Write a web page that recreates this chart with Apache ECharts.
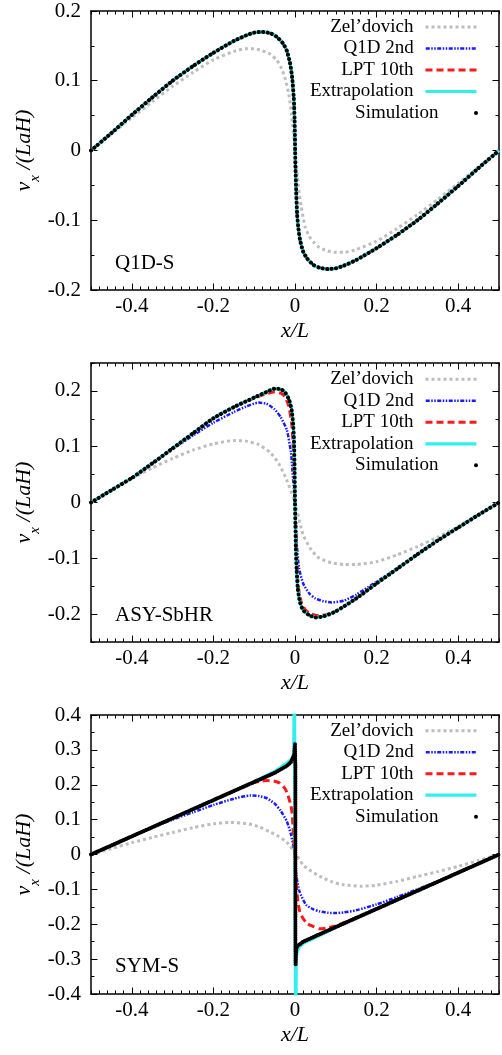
<!DOCTYPE html>
<html>
<head>
<meta charset="utf-8">
<script src="https://cdn.jsdelivr.net/npm/echarts@6/dist/echarts.min.js"></script>
<style>
  html, body { margin: 0; padding: 0; background: #fff; }
  #main { width: 502px; height: 1055px; }
</style>
</head>
<body>
<div id="main"></div>
<script>
// ---- data ----
var names = ['Zel\u2019dovich', 'Q1D 2nd', 'LPT 10th', 'Extrapolation', 'Simulation'];
var panelLabels = ['Q1D-S', 'ASY-SbHR', 'SYM-S'];
var xTickLabels = [-0.4, -0.2, 0, 0.2, 0.4];

// panel 1: Q1D-S
var q1dZelX = [-0.5,-0.45,-0.4,-0.35,-0.3,-0.25,-0.2,-0.15,-0.12,-0.1,-0.08,-0.06,-0.045,-0.035,-0.025,-0.015,-0.008,0,0.008,0.015,0.025,0.035,0.045,0.06,0.08,0.1,0.12,0.15,0.2,0.25,0.3,0.35,0.4,0.45,0.5];
var q1dZelY = [0,0.024,0.047,0.07,0.092,0.112,0.13,0.142,0.146,0.146,0.143,0.138,0.13,0.12,0.105,0.08,0.05,0,-0.05,-0.08,-0.11,-0.123,-0.131,-0.139,-0.144,-0.146,-0.146,-0.142,-0.13,-0.112,-0.092,-0.07,-0.047,-0.024,0];
var q1dExtX = [-0.5,-0.45,-0.4,-0.35,-0.3,-0.25,-0.2,-0.15,-0.12,-0.1,-0.08,-0.06,-0.045,-0.03,-0.02,-0.012,-0.007,-0.003,-0.001,0.001,0.003,0.005,0.008,0.012,0.02,0.03,0.045,0.06,0.08,0.1,0.12,0.15,0.2,0.25,0.3,0.35,0.4,0.45,0.5];
var q1dExtY = [0,0.025,0.051,0.076,0.1,0.121,0.14,0.157,0.165,0.169,0.17,0.168,0.163,0.154,0.143,0.125,0.105,0.075,0.045,-0.02,-0.06,-0.09,-0.11,-0.127,-0.145,-0.155,-0.164,-0.168,-0.17,-0.169,-0.165,-0.157,-0.14,-0.121,-0.1,-0.076,-0.051,-0.025,0];
var q1dQ1dX = q1dExtX, q1dQ1dY = q1dExtY;
var q1dLptX = q1dExtX, q1dLptY = q1dExtY;
var q1dSimX = q1dExtX, q1dSimY = q1dExtY;

// panel 2: ASY-SbHR
var asyZelX = [-0.5,-0.45,-0.4,-0.35,-0.3,-0.25,-0.2,-0.15,-0.12,-0.09,-0.06,-0.04,-0.02,0,0.02,0.04,0.06,0.09,0.12,0.15,0.2,0.25,0.3,0.35,0.4,0.45,0.5];
var asyZelY = [0,0.022,0.043,0.062,0.079,0.094,0.105,0.111,0.11,0.104,0.089,0.07,0.04,0,-0.058,-0.085,-0.1,-0.108,-0.111,-0.111,-0.106,-0.094,-0.079,-0.062,-0.043,-0.022,0];
var asyQ1dX = [-0.5,-0.45,-0.4,-0.35,-0.3,-0.25,-0.2,-0.15,-0.12,-0.09,-0.07,-0.05,-0.035,-0.02,-0.01,-0.005,0,0.005,0.01,0.02,0.035,0.05,0.07,0.09,0.12,0.15,0.2,0.25,0.3,0.35,0.4,0.45,0.5];
var asyQ1dY = [0,0.022,0.044,0.07,0.096,0.12,0.143,0.162,0.172,0.179,0.177,0.167,0.153,0.13,0.09,0.045,0,-0.08,-0.118,-0.145,-0.163,-0.172,-0.177,-0.179,-0.176,-0.165,-0.142,-0.118,-0.093,-0.068,-0.045,-0.022,0];
var asyLptX = [-0.5,-0.45,-0.4,-0.35,-0.3,-0.25,-0.2,-0.15,-0.1,-0.07,-0.05,-0.035,-0.025,-0.015,-0.008,-0.004,-0.002,0,0.002,0.004,0.008,0.015,0.025,0.04,0.06,0.08,0.1,0.15,0.2,0.25,0.3,0.35,0.4,0.45,0.5];
var asyLptY = [0,0.022,0.044,0.07,0.097,0.124,0.151,0.171,0.187,0.195,0.198,0.196,0.19,0.172,0.14,0.095,0.05,0,-0.05,-0.1,-0.15,-0.178,-0.192,-0.2,-0.203,-0.2,-0.195,-0.172,-0.145,-0.119,-0.093,-0.068,-0.045,-0.022,0];
var asyExtX = [-0.5,-0.45,-0.4,-0.35,-0.3,-0.25,-0.2,-0.15,-0.1,-0.07,-0.05,-0.035,-0.025,-0.015,-0.008,-0.004,-0.002,-0.001,0,0.001,0.002,0.004,0.007,0.012,0.02,0.035,0.05,0.07,0.1,0.15,0.2,0.25,0.3,0.35,0.4,0.45,0.5];
var asyExtY = [0,0.022,0.044,0.07,0.097,0.124,0.151,0.171,0.188,0.198,0.204,0.203,0.198,0.185,0.165,0.135,0.1,0.06,0,-0.04,-0.08,-0.12,-0.155,-0.178,-0.193,-0.202,-0.206,-0.204,-0.195,-0.172,-0.145,-0.119,-0.093,-0.068,-0.045,-0.022,0];
var asySimX = asyExtX, asySimY = asyExtY;

// panel 3: SYM-S
var symZelX = [-0.5,-0.45,-0.4,-0.35,-0.3,-0.25,-0.2,-0.16,-0.12,-0.09,-0.06,-0.04,-0.02,0,0.02,0.04,0.06,0.09,0.12,0.16,0.2,0.25,0.3,0.35,0.4,0.45,0.5];
var symZelY = [0,0.017,0.034,0.049,0.063,0.077,0.088,0.092,0.089,0.08,0.064,0.052,0.035,0.006,-0.03,-0.048,-0.062,-0.078,-0.087,-0.091,-0.088,-0.077,-0.063,-0.049,-0.034,-0.017,0];
var symQ1dX = [-0.5,-0.45,-0.4,-0.35,-0.3,-0.25,-0.2,-0.15,-0.11,-0.09,-0.07,-0.05,-0.035,-0.02,-0.01,0,0.003,0.011,0.027,0.045,0.06,0.08,0.1,0.12,0.15,0.2,0.25,0.3,0.35,0.4,0.45,0.5];
var symQ1dY = [0,0.026,0.052,0.077,0.1,0.121,0.142,0.16,0.169,0.168,0.162,0.146,0.125,0.095,0.058,0,-0.058,-0.106,-0.144,-0.157,-0.163,-0.167,-0.168,-0.166,-0.16,-0.143,-0.122,-0.1,-0.077,-0.052,-0.026,0];
var symLptX = [-0.5,-0.4,-0.3,-0.2,-0.12,-0.1,-0.085,-0.07,-0.05,-0.038,-0.025,-0.0176,-0.01,-0.0068,-0.005,-0.003,0,0.003,0.007,0.012,0.019,0.03,0.044,0.06,0.076,0.1,0.125,0.2,0.3,0.4,0.5];
var symLptY = [0,0.052,0.104,0.156,0.198,0.206,0.21,0.212,0.21,0.205,0.19,0.171,0.14,0.114,0.08,0.04,-0.02,-0.077,-0.135,-0.165,-0.182,-0.198,-0.206,-0.213,-0.211,-0.205,-0.193,-0.156,-0.104,-0.052,0];
var symExtX = [-0.5,-0.4,-0.3,-0.2,-0.1,-0.05,-0.02,-0.01,-0.005,-0.003,-0.0015,0.0015,0.003,0.005,0.01,0.02,0.05,0.1,0.2,0.3,0.4,0.5];
var symExtY = [0,0.052,0.104,0.156,0.209,0.238,0.262,0.272,0.28,0.3,0.6,-0.6,-0.3,-0.28,-0.265,-0.255,-0.238,-0.209,-0.156,-0.104,-0.052,0];
var symSimX = [-0.5,-0.4,-0.3,-0.2,-0.1,-0.05,-0.02,-0.01,-0.005,-0.002,0,0.001,0.001,0.0015,0.003,0.006,0.011,0.02,0.035,0.05,0.1,0.2,0.3,0.4,0.5];
var symSimY = [0,0.052,0.104,0.156,0.208,0.234,0.254,0.265,0.278,0.286,0.316,0.25,-0.25,-0.316,-0.27,-0.262,-0.258,-0.25,-0.242,-0.234,-0.208,-0.156,-0.104,-0.052,0];

var panels = [
  { zel: [q1dZelX, q1dZelY], q1d: [q1dQ1dX, q1dQ1dY], lpt: [q1dLptX, q1dLptY], ext: [q1dExtX, q1dExtY], sim: [q1dSimX, q1dSimY], ymin: -0.2, ymax: 0.2 },
  { zel: [asyZelX, asyZelY], q1d: [asyQ1dX, asyQ1dY], lpt: [asyLptX, asyLptY], ext: [asyExtX, asyExtY], sim: [asySimX, asySimY], ymin: -0.25, ymax: 0.25 },
  { zel: [symZelX, symZelY], q1d: [symQ1dX, symQ1dY], lpt: [symLptX, symLptY], ext: [symExtX, symExtY], sim: [symSimX, symSimY], ymin: -0.4, ymax: 0.4 }
];

// ---- layout ----
var FONT = 'Liberation Serif';
var gridTops = [11, 363, 715];
var gridH = 279;
var legendTops = [27, 379.3, 730.7];
var labelCenters = [263.5, 615, 966];

function pairs(xs, ys) {
  var out = [];
  for (var i = 0; i < xs.length; i++) out.push([xs[i], ys[i]]);
  return out;
}

// tick positions between min and max every step
function steps(min, max, step) {
  var out = [];
  var n = Math.round((max - min) / step);
  for (var k = 0; k <= n; k++) out.push(Math.round((min + k * step) * 1000) / 1000);
  return out;
}

function fmtX(v) {
  var r = Math.round(v * 50) / 50;
  var t = Math.round(r * 5);
  if (Math.abs(r * 5 - t) > 1e-6 || Math.abs(r) > 0.45) return '';
  return String(t / 5);
}
function fmtY(v) {
  var r = Math.round(v * 20) / 20;
  var t = Math.round(r * 10);
  if (Math.abs(r * 10 - t) > 1e-6) return '';
  return String(t / 10);
}

var lineCol = '#000';
function axisPair(g, dim, pos, min, max, step, major, withLabels) {
  var minor = {
    gridIndex: g, type: 'value', position: pos, min: min, max: max, interval: step,
    axisLine: { show: true, onZero: false, lineStyle: { color: lineCol, width: 1.5 } },
    axisTick: { show: true, inside: true, length: 3.5, customValues: steps(min, max, step), lineStyle: { color: lineCol, width: 1 } },
    axisLabel: { show: false },
    splitLine: { show: false }
  };
  if (withLabels) {
    minor.axisLabel = {
      show: true, formatter: dim === 'x' ? fmtX : fmtY, margin: dim === 'x' ? 6 : 10,
      color: '#000', fontFamily: FONT, fontSize: 21
    };
    minor.nameMoveOverlap = false;
    if (dim === 'x') {
      minor.name = 'x/L';
      minor.nameLocation = 'middle';
      minor.nameGap = 30;
      minor.nameTextStyle = { fontFamily: FONT, fontStyle: 'italic', fontSize: 22, color: '#000' };
    } else {
      minor.name = '{i|v}{s|x}{i| /(LaH)}';
      minor.nameLocation = 'middle';
      minor.nameRotate = 90;
      minor.nameGap = 48;
      minor.nameTextStyle = {
        color: '#000',
        rich: {
          i: { fontFamily: FONT, fontStyle: 'italic', fontSize: 22, lineHeight: 22, verticalAlign: 'top', color: '#000' },
          s: { fontFamily: FONT, fontStyle: 'italic', fontSize: 15, lineHeight: 30, verticalAlign: 'bottom', color: '#000' }
        }
      };
    }
  }
  var maj = {
    gridIndex: g, type: 'value', position: pos, min: min, max: max,
    axisLine: { show: false, onZero: false },
    axisTick: { show: true, inside: true, length: 6.5, customValues: major, lineStyle: { color: lineCol, width: 1 } },
    axisLabel: { show: false },
    splitLine: { show: false }
  };
  return [minor, maj];
}

var grids = [], xAxes = [], yAxes = [], series = [], legends = [], titles = [];
var styles = [
  { key: 'zel', color: '#bdbdbd', width: 3, type: [3, 3], cap: 'butt' },
  { key: 'q1d', color: '#1a1aff', width: 2.5, type: [4, 1.5, 1.5, 1.5, 1.5, 1.5], cap: 'butt' },
  { key: 'lpt', color: '#ff1a1a', width: 3, type: [7, 4], cap: 'butt' },
  { key: 'ext', color: '#33eeee', width: 3.2, type: 'solid', cap: 'butt' },
  { key: 'sim', color: '#000', width: 4, type: [0.1, 4.4], cap: 'round' }
];

panels.forEach(function (p, g) {
  grids.push({ left: 91, width: 409, top: gridTops[g], height: gridH });
  var yMajor = [];
  for (var k = -4; k <= 4; k++) { var v = k / 10; if (v >= p.ymin - 1e-9 && v <= p.ymax + 1e-9) yMajor.push(v); }
  xAxes = xAxes.concat(axisPair(g, 'x', 'bottom', -0.5, 0.5, 0.02, xTickLabels, true));
  xAxes = xAxes.concat(axisPair(g, 'x', 'top', -0.5, 0.5, 0.02, xTickLabels, false));
  yAxes = yAxes.concat(axisPair(g, 'y', 'left', p.ymin, p.ymax, 0.05, yMajor, true));
  yAxes = yAxes.concat(axisPair(g, 'y', 'right', p.ymin, p.ymax, 0.05, yMajor, false));

  styles.forEach(function (s, i) {
    var d = p[s.key];
    var lt = s.type;
    if (s.key === 'sim' && g === 2) lt = [0.1, 2.2];
    series.push({
      name: names[i], type: 'line', xAxisIndex: g * 4, yAxisIndex: g * 4,
      data: pairs(d[0], d[1]), symbol: 'none', showSymbol: false,
      smooth: (g === 2 && (s.key === 'ext' || s.key === 'sim')) ? false : 0.2,
      clip: true,
      lineStyle: { color: s.color, width: s.width, type: lt, cap: s.cap },
      itemStyle: { color: s.color },
      z: 2 + i, silent: true
    });
    var isSim = s.key === 'sim';
    legends.push({
      data: [names[i]], orient: 'vertical', align: 'right', right: 24,
      top: legendTops[g] + i * 21.5 - 10, padding: 0, itemGap: 0,
      itemWidth: 51, itemHeight: isSim ? 4 : 12,
      icon: isSim ? 'circle' : undefined,
      itemStyle: isSim ? {} : { opacity: 0 },
      lineStyle: { width: s.width, type: s.key === 'sim' ? 'solid' : s.type },
      selectedMode: false,
      textStyle: { fontFamily: FONT, fontSize: 19, lineHeight: 20, color: '#000', padding: [0, 7, 0, 0] }
    });
  });

  titles.push({
    text: panelLabels[g], left: 115, top: labelCenters[g] - 12, padding: 0,
    textStyle: { fontFamily: FONT, fontSize: 21, fontWeight: 'normal', color: '#000', lineHeight: 24 }
  });
});

var chart = echarts.init(document.getElementById('main'), null, { renderer: 'canvas' });
chart.setOption({
  animation: false,
  backgroundColor: '#fff',
  title: titles,
  grid: grids,
  xAxis: xAxes,
  yAxis: yAxes,
  legend: legends,
  series: series
});
</script>
</body>
</html>
